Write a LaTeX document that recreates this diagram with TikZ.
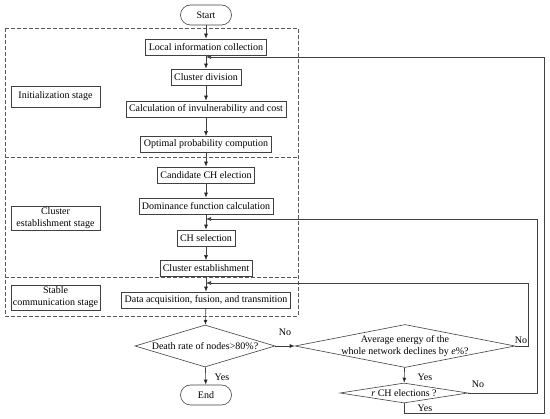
\documentclass[tikz,border=0pt]{standalone}
\usepackage{fontspec}
\setmainfont{Liberation Serif}
\usetikzlibrary{shapes.geometric,arrows.meta}
\begin{document}
\begin{tikzpicture}[x=1pt,y=-1pt,>={Latex[length=5pt,width=4pt]},font=\fontsize{10}{12}\selectfont]
        \tikzstyle{process}=[rectangle,draw=black!75,line width=0.6pt,minimum height=16pt,inner xsep=3pt,inner ysep=2pt]
        \tikzstyle{terminal}=[rectangle,rounded corners=10pt,draw=black!75,line width=0.6pt,minimum width=51pt,minimum height=20pt]
        \tikzstyle{decision}=[diamond,draw=black!75,line width=0.6pt,inner sep=0pt]
        \tikzstyle{stagelabel}=[rectangle,draw=black!75,line width=0.6pt,minimum width=89pt,align=center,inner xsep=2pt,inner ysep=1pt]
        \tikzstyle{stage}=[draw=black!65,line width=0.6pt,dash pattern=on 4pt off 2pt]
        \tikzstyle{line}=[draw=black!75,line width=0.6pt,->]
        \tikzstyle{answer}=[inner sep=1pt]
        \useasboundingbox (0,0) rectangle (550,419);
        % stages
        \draw[stage] (5,28) rectangle (298,316);
        \draw[stage] (5,157) -- (298,157);
        \draw[stage] (5,277) -- (298,277);
        \node [stagelabel,minimum height=21pt] (init) at (55.5,96.5) {Initialization stage};
        \node [stagelabel,minimum height=24pt] (estab) at (55.5,218.5) {Cluster\\establishment stage};
        \node [stagelabel,minimum height=25pt] (stable) at (55.5,297.5) {Stable\\communication stage};
        % main flow
        \node [terminal] (start) at (206,15) {Start};
        \node [process] (local) at (206,47) {Local information collection};
        \node [process] (division) at (206,77) {Cluster division};
        \node [process] (calc) at (206,109) {Calculation of invulnerability and cost};
        \node [process] (optimal) at (206,144.5) {Optimal probability compution};
        \node [process] (candidate) at (206,175) {Candidate CH election};
        \node [process] (dominance) at (206,206) {Dominance function calculation};
        \node [process] (chsel) at (206,238) {CH selection};
        \node [process] (clest) at (206,268.5) {Cluster establishment};
        \node [process] (data) at (206,300) {Data acquisition, fusion, and transmition};
        \node [decision,minimum width=140pt,minimum height=42pt,label=center:{Death rate of nodes>80\%?}] (death) at (205,346) {};
        \node [terminal] (stop) at (206,395) {End};
        \node [decision,minimum width=220pt,minimum height=43pt,label={[align=center]center:{Average energy of the\\whole network declines by \textit{e}\%?}}] (avg) at (405,346) {};
        \node [decision,minimum width=128pt,minimum height=20pt,label=center:{\textit{r} CH elections ?}] (rch) at (404,393) {};
        % answers
        \node [answer] (no1) at (285,332) {No};
        \node [answer] (yes1) at (222,377) {Yes};
        \node [answer] (yes2) at (425,377) {Yes};
        \node [answer] (no2) at (521,340) {No};
        \node [answer] (no3) at (478,384) {No};
        \node [answer] (yes3) at (425,408) {Yes};
        % arrows
        \path[line] (start) edge (local);
        \path[line] (local) edge (division);
        \path[line] (division) edge (calc);
        \path[line] (calc) edge (optimal);
        \path[line] (optimal) edge (candidate);
        \path[line] (candidate) edge (dominance);
        \path[line] (dominance) edge (chsel);
        \path[line] (chsel) edge (clest);
        \path[line] (clest) edge (data);
        \path[line] (data) edge (death);
        \path[line] (death) edge (stop);
        \path[line] (death) edge (avg);
        \path[line] (avg) edge (rch);
        % loops back
        \coordinate (j1) at (206,57);
        \coordinate (c1) at (544,413);
        \draw[line] (rch.south) |- (c1) |- (j1);
        \coordinate (j2) at (206,219);
        \coordinate (c2) at (537,393);
        \draw[line] (rch.east) -- (c2) |- (j2);
        \coordinate (j3) at (206,283);
        \coordinate (c3) at (528,346);
        \draw[line] (avg.east) -- (c3) |- (j3);
\end{tikzpicture}
\end{document}
